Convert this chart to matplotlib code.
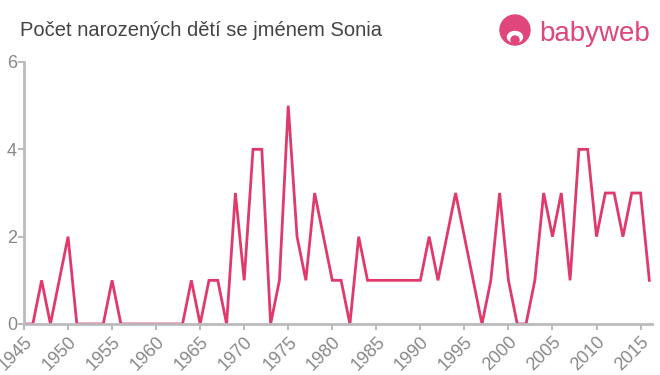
import matplotlib
matplotlib.use("Agg")
import matplotlib.pyplot as plt
from matplotlib.patches import Circle, Ellipse

# data
years = list(range(1945, 2017))
counts = [0, 0, 1, 0, 1, 2, 0, 0, 0, 0,   # 1945-1954
          1, 0, 0, 0, 0, 0, 0, 0, 0, 1,   # 1955-1964
          0, 1, 1, 0, 3, 1, 4, 4, 0, 1,   # 1965-1974
          5, 2, 1, 3, 2, 1, 1, 0, 2, 1,   # 1975-1984
          1, 1, 1, 1, 1, 1, 2, 1, 2, 3,   # 1985-1994
          2, 1, 0, 1, 3, 1, 0, 0, 1, 3,   # 1995-2004
          2, 3, 1, 4, 4, 2, 3, 3, 2, 3,   # 2005-2014
          3, 1]                           # 2015-2016
xticks = list(range(1945, 2016, 5))
yticks = [0, 2, 4, 6]

title = "Počet narozených dětí se jménem Sonia"
line_col = "#e03a6c"
logo_col = "#e0457b"
axis_col = "#bbbbbb"
label_col = "#888888"

plt.rcParams['font.family'] = ['Liberation Sans', 'DejaVu Sans']

fig = plt.figure(figsize=(6.6, 3.75), dpi=100)
ax = fig.add_axes([24/660, 1-324/375, 628/660, 262/375])

ax.plot(years, counts, color=line_col, lw=2, solid_joinstyle='miter')

ax.set_xlim(1945, 2016.3)
ax.set_ylim(0, 6)
ax.set_xticks(xticks)
ax.set_yticks(yticks)
ax.set_xticklabels([str(x) for x in xticks], rotation=45, ha='right',
                   rotation_mode='anchor')
ax.tick_params(axis='both', colors=axis_col, labelcolor=label_col,
               labelsize=13, length=4, width=1.5)
ax.tick_params(axis='x', pad=3)
ax.tick_params(axis='y', pad=1)

for s in ['top', 'right']:
    ax.spines[s].set_visible(False)
for s in ['left', 'bottom']:
    ax.spines[s].set_color(axis_col)
    ax.spines[s].set_linewidth(2)

fig.text(20/660, 1-30/375, title, fontsize=14.5, color='#444444',
         va='center', ha='left')

# logo
lax = fig.add_axes([497/660, 1-50/375, 36/660, 36/375])
lax.set_xlim(0, 36)
lax.set_ylim(0, 36)
lax.set_aspect('equal')
lax.axis('off')
lax.add_patch(Circle((18, 20), 15, color=logo_col))
lax.add_patch(Ellipse((18, 13), 15, 11, color='white'))
lax.add_patch(Circle((18, 10), 4, color=logo_col))
fig.text(539/660, 1-34/375, "babyweb", fontsize=20, color=logo_col,
         va='center', ha='left')

fig.savefig("out.png", dpi=100)
